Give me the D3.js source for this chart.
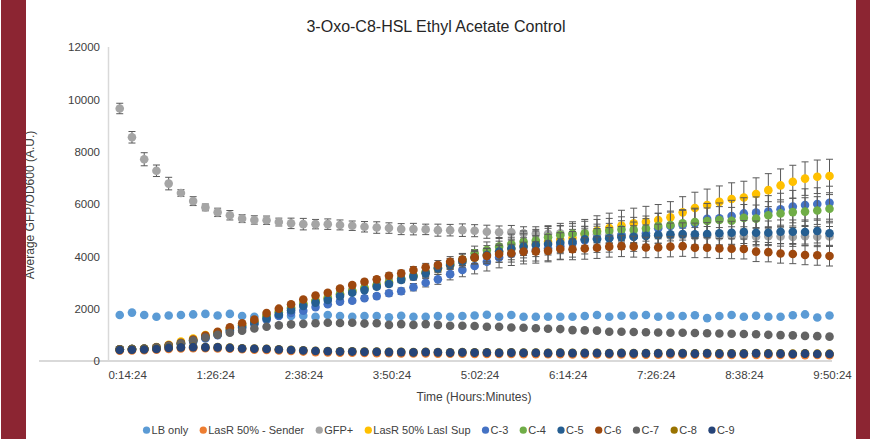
<!DOCTYPE html>
<html>
<head>
<meta charset="utf-8">
<script src="https://cdn.jsdelivr.net/npm/d3@7/dist/d3.min.js"></script>
<style>
  html, body { margin: 0; padding: 0; background: #fff; }
  svg { display: block; font-family: "Liberation Sans", Arial, sans-serif; }
</style>
</head>
<body>
<svg id="chart" width="870" height="439"></svg>
<script>
// Sampling times (minutes after start)
const timeMinutes = [10,20,30,40,50,60,70,80,90,100,110,120,130,140,150,160,170,180,190,200,
  210,220,230,240,250,260,270,280,290,300,310,320,330,340,350,360,370,380,390,400,
  410,420,430,440,450,460,470,480,490,500,510,520,530,540,550,560,570,580,590];

// Axis ticks
const xTickMinutes = [14.4, 86.4, 158.4, 230.4, 302.4, 374.4, 446.4, 518.4, 590.4];
const xTickLabels = ["0:14:24","1:26:24","2:38:24","3:50:24","5:02:24","6:14:24","7:26:24","8:38:24","9:50:24"];
const yTicks = [0, 2000, 4000, 6000, 8000, 10000, 12000];

// Series names and colours
const seriesNames = ["LB only","LasR 50% - Sender","GFP+","LasR 50% LasI Sup","C-3","C-4","C-5","C-6","C-7","C-8","C-9"];
const seriesColors = ["#5B9BD5","#ED7D31","#A5A5A5","#FFC000","#4472C4","#70AD47","#255E91","#9E480E","#636363","#997300","#264478"];

// Average GFP/OD600, thousands of A.U.
const lbOnly = [1.76,1.85,1.76,1.69,1.74,1.76,1.78,1.8,1.74,1.8,1.72,1.69,1.75,1.74,1.72,
  1.73,1.69,1.76,1.72,1.69,1.72,1.72,1.67,1.73,1.69,1.69,1.72,1.69,1.72,1.74,1.77,1.69,1.76,1.69,1.69,1.69,1.69,1.69,
  1.72,1.76,1.69,1.73,1.74,1.76,1.69,1.73,1.72,1.75,1.64,1.72,1.76,1.69,1.73,1.69,1.69,1.75,1.78,1.66,1.74];
const lasRSender = [0.39,0.4,0.41,0.43,0.46,0.48,0.49,0.49,0.48,0.47,0.45,0.43,0.42,0.4,0.38,
  0.36,0.34,0.33,0.32,0.32,0.31,0.3,0.3,0.29,0.29,0.29,0.28,0.28,0.28,0.27,0.27,0.27,0.27,0.26,0.26,0.26,0.26,0.25,
  0.25,0.25,0.25,0.25,0.24,0.24,0.24,0.25,0.24,0.24,0.24,0.23,0.23,0.24,0.23,0.23,0.23,0.23,0.22,0.23,0.22];
const gfpPos = [9.65,8.55,7.71,7.27,6.78,6.42,6.11,5.87,5.68,5.57,5.44,5.39,5.38,5.31,5.26,5.23,
  5.23,5.23,5.2,5.17,5.13,5.1,5.08,5.04,5.04,5.03,5.0,5.0,5.0,4.98,4.94,4.92,4.92,4.88,4.86,4.86,4.88,4.85,
  4.83,4.84,4.8,4.82,4.8,4.79,4.82,4.78,4.8,4.77,4.79,4.76,4.78,4.77,4.75,4.77,4.76,4.74,4.77,4.75,4.76];
const lasRLasISup = [0.45,0.46,0.48,0.53,0.62,0.74,0.86,0.99,1.1,1.24,1.38,1.52,1.72,1.88,2.04,
  2.2,2.32,2.43,2.57,2.68,2.8,2.9,3.02,3.14,3.26,3.38,3.52,3.66,3.8,3.94,4.05,4.18,4.3,4.4,4.48,4.56,4.63,4.7,
  4.85,4.98,5.08,5.18,5.26,5.32,5.39,5.49,5.68,5.85,5.96,6.08,6.19,6.25,6.38,6.53,6.71,6.85,6.97,7.04,7.07];
const c3 = [0.45,0.46,0.47,0.5,0.56,0.64,0.74,0.86,0.99,1.12,1.26,1.4,1.58,1.72,1.84,
  1.92,2.06,2.17,2.27,2.3,2.4,2.48,2.59,2.67,2.82,2.99,3.12,3.32,3.48,3.63,3.79,3.96,4.09,4.18,4.24,4.3,4.39,4.5,
  4.62,4.69,4.71,4.81,4.75,4.88,5.07,5.16,5.2,5.26,5.43,5.45,5.54,5.64,5.67,5.71,5.8,5.9,5.96,6.0,6.05];
const c4 = [0.45,0.46,0.47,0.51,0.58,0.68,0.79,0.93,1.07,1.22,1.36,1.5,1.7,1.86,2.02,
  2.18,2.3,2.4,2.55,2.68,2.78,2.9,3.0,3.15,3.27,3.4,3.58,3.72,3.88,4.12,4.24,4.37,4.47,4.56,4.6,4.73,4.81,4.86,
  4.88,4.94,4.98,5.03,5.01,5.06,5.16,5.2,5.26,5.31,5.35,5.39,5.36,5.47,5.44,5.57,5.64,5.69,5.71,5.75,5.82];
const c5 = [0.45,0.46,0.47,0.5,0.57,0.66,0.77,0.9,1.03,1.17,1.3,1.45,1.62,1.78,1.94,
  2.1,2.23,2.33,2.48,2.61,2.71,2.84,2.94,3.1,3.22,3.35,3.54,3.67,3.79,3.96,4.05,4.18,4.3,4.37,4.43,4.47,4.52,4.56,
  4.65,4.65,4.69,4.73,4.75,4.78,4.81,4.84,4.85,4.84,4.85,4.88,4.9,4.93,4.9,4.9,4.94,4.94,4.93,4.97,4.88];
const c6 = [0.45,0.46,0.47,0.52,0.6,0.7,0.82,0.97,1.12,1.29,1.44,1.58,1.83,2.0,2.17,
  2.35,2.5,2.61,2.77,2.9,3.03,3.12,3.26,3.35,3.48,3.58,3.67,3.79,3.88,3.96,4.01,4.09,4.12,4.18,4.19,4.21,4.28,4.27,
  4.3,4.33,4.37,4.39,4.37,4.34,4.34,4.37,4.39,4.33,4.33,4.3,4.29,4.28,4.18,4.16,4.11,4.09,4.05,4.04,4.01];
const c7 = [0.45,0.46,0.47,0.52,0.58,0.68,0.78,0.9,1.0,1.08,1.16,1.24,1.31,1.36,1.4,
  1.42,1.44,1.46,1.45,1.46,1.43,1.44,1.38,1.41,1.38,1.41,1.38,1.35,1.35,1.34,1.31,1.31,1.28,1.27,1.25,1.23,1.22,1.18,
  1.17,1.16,1.12,1.12,1.11,1.1,1.09,1.08,1.08,1.07,1.06,1.05,1.04,1.03,1.02,1.0,0.99,0.98,0.96,0.95,0.93];
const c8 = [0.43,0.44,0.45,0.47,0.51,0.53,0.54,0.53,0.53,0.51,0.49,0.48,0.47,0.45,0.43,
  0.41,0.39,0.38,0.37,0.37,0.36,0.36,0.35,0.35,0.34,0.35,0.34,0.33,0.34,0.33,0.33,0.32,0.33,0.32,0.32,0.31,0.32,0.31,
  0.31,0.31,0.3,0.31,0.3,0.3,0.3,0.31,0.3,0.29,0.3,0.29,0.29,0.29,0.3,0.29,0.29,0.28,0.29,0.28,0.28];
const c9 = [0.42,0.43,0.44,0.46,0.5,0.52,0.53,0.52,0.52,0.5,0.48,0.47,0.46,0.44,0.42,
  0.4,0.38,0.37,0.36,0.36,0.35,0.35,0.34,0.34,0.33,0.34,0.33,0.32,0.33,0.32,0.32,0.31,0.32,0.31,0.31,0.3,0.31,0.3,
  0.3,0.3,0.29,0.3,0.29,0.29,0.29,0.3,0.29,0.28,0.29,0.28,0.28,0.28,0.29,0.28,0.28,0.27,0.28,0.27,0.27];

// Standard deviations (thousands of A.U.) for the series that show error bars
const gfpPosErr = [0.2,0.22,0.25,0.22,0.24,0.13,0.17,0.13,0.16,0.18,0.15,0.16,0.16,0.15,0.2,0.22,
  0.18,0.2,0.19,0.18,0.2,0.22,0.2,0.21,0.22,0.2,0.23,0.22,0.24,0.23,0.25,0.24,0.26,0.25,0.27,0.28,0.3,0.3,
  0.3,0.31,0.3,0.32,0.31,0.33,0.32,0.33,0.34,0.33,0.35,0.34,0.35,0.36,0.35,0.36,0.37,0.36,0.37,0.38,0.38];
const lasRLasISupErr = [0.02,0.02,0.02,0.03,0.03,0.03,0.04,0.04,0.04,0.05,0.05,0.05,0.06,0.06,0.06,
  0.07,0.07,0.08,0.08,0.09,0.1,0.11,0.12,0.14,0.16,0.18,0.21,0.24,0.28,0.32,0.36,0.4,0.43,0.46,0.49,0.51,0.53,0.55,
  0.56,0.57,0.57,0.58,0.58,0.59,0.59,0.6,0.6,0.6,0.61,0.61,0.62,0.62,0.62,0.63,0.63,0.63,0.64,0.64,0.64];
const c3Err = [0.02,0.02,0.02,0.02,0.03,0.03,0.03,0.04,0.04,0.04,0.05,0.05,0.05,0.06,0.06,
  0.06,0.07,0.07,0.08,0.08,0.09,0.1,0.11,0.12,0.14,0.16,0.19,0.22,0.26,0.3,0.35,0.4,0.44,0.47,0.5,0.51,0.52,0.53,
  0.53,0.54,0.55,0.55,0.56,0.56,0.57,0.57,0.58,0.58,0.59,0.59,0.6,0.6,0.6,0.61,0.61,0.62,0.62,0.62,0.63];
const c4Err = [0.02,0.02,0.02,0.02,0.03,0.03,0.03,0.03,0.04,0.04,0.04,0.05,0.05,0.05,0.06,
  0.06,0.06,0.07,0.07,0.08,0.09,0.1,0.11,0.12,0.13,0.15,0.17,0.2,0.23,0.27,0.31,0.35,0.38,0.41,0.43,0.44,0.45,0.46,
  0.46,0.47,0.47,0.48,0.48,0.48,0.49,0.49,0.5,0.5,0.5,0.51,0.51,0.51,0.52,0.52,0.52,0.53,0.53,0.53,0.54];
const c5Err = [0.02,0.02,0.02,0.02,0.02,0.03,0.03,0.03,0.03,0.04,0.04,0.04,0.05,0.05,0.05,
  0.06,0.06,0.06,0.07,0.07,0.08,0.09,0.1,0.11,0.12,0.13,0.15,0.17,0.2,0.23,0.26,0.29,0.32,0.34,0.36,0.37,0.38,0.39,
  0.4,0.41,0.41,0.41,0.42,0.42,0.42,0.43,0.43,0.43,0.44,0.44,0.44,0.44,0.45,0.45,0.45,0.45,0.46,0.46,0.46];
const c6Err = [0.02,0.02,0.02,0.02,0.03,0.03,0.03,0.03,0.04,0.04,0.04,0.05,0.05,0.05,0.06,
  0.06,0.07,0.07,0.08,0.08,0.09,0.1,0.11,0.12,0.13,0.15,0.17,0.2,0.23,0.26,0.29,0.32,0.34,0.36,0.37,0.38,0.39,0.4,
  0.41,0.41,0.4,0.4,0.4,0.39,0.39,0.39,0.39,0.38,0.38,0.38,0.38,0.38,0.38,0.37,0.37,0.37,0.37,0.38,0.38];
const c7Err = [0.02,0.02,0.02,0.02,0.03,0.03,0.04,0.04,0.05,0.05,0.05,0.05,0.06,0.06,0.06,
  0.06,0.06,0.06,0.06,0.06,0.06,0.06,0.06,0.06,0.06,0.06,0.06,0.06,0.05,0.05,0.05,0.05,0.05,0.05,0.05,0.05,0.05,0.05,
  0.05,0.05,0.05,0.05,0.05,0.05,0.05,0.05,0.05,0.05,0.05,0.05,0.05,0.05,0.05,0.05,0.05,0.05,0.05,0.05,0.05];

const seriesValues = [lbOnly, lasRSender, gfpPos, lasRLasISup, c3, c4, c5, c6, c7, c8, c9];
const seriesErrors = [null, null, gfpPosErr, lasRLasISupErr, c3Err, c4Err, c5Err, c6Err, c7Err, null, null];

const svg = d3.select("#chart");
const W = 870, H = 439;

svg.append("rect").attr("width", W).attr("height", H).attr("fill", "#fff");

const x = d3.scaleLinear().domain([0, 590.4]).range([107.5, 830]);
const y = d3.scaleLinear().domain([0, 12000]).range([361, 47]);

// Axes
svg.append("line").attr("x1", x(0) + 1).attr("x2", x(0) + 1).attr("y1", y(12000)).attr("y2", y(0))
  .attr("stroke", "#d9d9d9").attr("stroke-width", 1.5);
svg.append("line").attr("x1", 39).attr("x2", x(590.4) + 2).attr("y1", y(0)).attr("y2", y(0))
  .attr("stroke", "#d9d9d9").attr("stroke-width", 2);

const yAxis = d3.axisLeft(y).tickValues(yTicks).tickSize(0).tickPadding(0).tickFormat(d3.format("d"));
const gy = svg.append("g").attr("transform", "translate(100,0)").call(yAxis);
gy.select(".domain").remove();
gy.selectAll("text").attr("font-size", 11.5).attr("fill", "#404040").attr("font-family", "Liberation Sans, Arial, sans-serif");

const xAxis = d3.axisBottom(x).tickValues(xTickMinutes).tickSize(0).tickPadding(0)
  .tickFormat((d, i) => xTickLabels[i]);
const gx = svg.append("g").attr("transform", "translate(2,371)").call(xAxis);
gx.select(".domain").remove();
gx.selectAll("text").attr("font-size", 11.5).attr("fill", "#404040").attr("font-family", "Liberation Sans, Arial, sans-serif");

// Titles
svg.append("text").attr("x", 436).attr("y", 32).attr("text-anchor", "middle")
  .attr("font-size", 16).attr("fill", "#262626").text("3-Oxo-C8-HSL Ethyl Acetate Control");
svg.append("text").attr("x", 474).attr("y", 401).attr("text-anchor", "middle")
  .attr("font-size", 12).attr("fill", "#404040").text("Time (Hours:Minutes)");
svg.append("text").attr("transform", "translate(34,205) rotate(-90)").attr("text-anchor", "middle")
  .attr("font-size", 12).attr("fill", "#404040").text("Average GFP/OD600 (A.U.)");

// Error bars and markers, series by series
const plot = svg.append("g");
seriesNames.forEach((name, s) => {
  const g = plot.append("g").attr("class", "series");
  const vals = seriesValues[s];
  const errs = seriesErrors[s];
  const pts = timeMinutes.map((t, i) => ({ t, v: vals[i] * 1000, e: errs ? errs[i] * 1000 : 0 }));
  if (errs) {
    const eb = g.selectAll(".eb").data(pts).join("g").attr("class", "eb")
      .attr("stroke", "#595959").attr("stroke-width", 1);
    eb.append("line").attr("x1", d => x(d.t)).attr("x2", d => x(d.t))
      .attr("y1", d => y(d.v - d.e)).attr("y2", d => y(d.v + d.e));
    eb.append("line").attr("x1", d => x(d.t) - 3.5).attr("x2", d => x(d.t) + 3.5)
      .attr("y1", d => y(d.v + d.e)).attr("y2", d => y(d.v + d.e));
    eb.append("line").attr("x1", d => x(d.t) - 3.5).attr("x2", d => x(d.t) + 3.5)
      .attr("y1", d => y(d.v - d.e)).attr("y2", d => y(d.v - d.e));
  }
  g.selectAll("circle").data(pts).join("circle")
    .attr("cx", d => x(d.t)).attr("cy", d => y(d.v)).attr("r", 4.3)
    .attr("fill", seriesColors[s]);
});

// Legend
const legend = svg.append("g").attr("font-size", 11).attr("fill", "#404040");
let lx = 0;
const items = [];
seriesNames.forEach((name, s) => {
  const it = legend.append("g");
  it.append("circle").attr("cx", 0).attr("cy", -3.8).attr("r", 3.6).attr("fill", seriesColors[s]);
  const t = it.append("text").attr("x", 5).attr("y", 0).text(name);
  const w = t.node().getComputedTextLength();
  items.push({ it, lx });
  lx += 5 + w + 15;
});
const total = lx - 15;
const startX = 437 - total / 2 + 3.6;
items.forEach(d => d.it.attr("transform", `translate(${startX + d.lx},434)`));

// Frame bands at the sides
svg.append("rect").attr("x", 1).attr("y", 0).attr("width", 25).attr("height", H).attr("fill", "#8C2532");
svg.append("rect").attr("x", 856).attr("y", 0).attr("width", 14).attr("height", H).attr("fill", "#8C2532");
</script>
</body>
</html>
